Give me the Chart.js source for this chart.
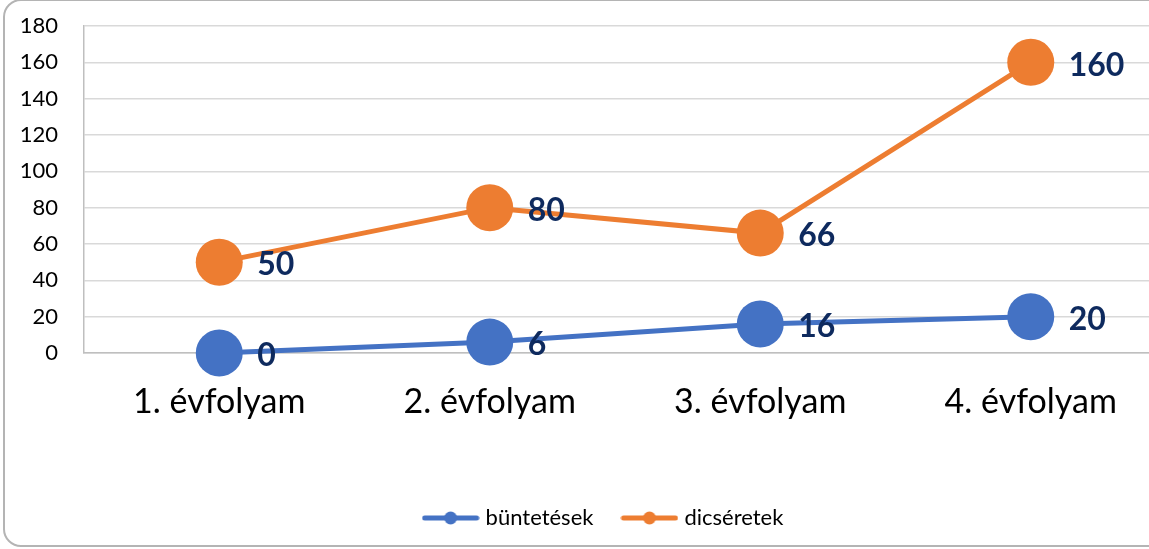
<!DOCTYPE html>
<html>
<head>
<meta charset="utf-8">
<script src="https://cdn.jsdelivr.net/npm/chart.js@4/dist/chart.umd.min.js"></script>
<style>
  html, body { margin: 0; padding: 0; background: #fff; overflow: hidden; }
  #frame {
    position: absolute; left: 3px; top: -1px;
    width: 1200px; height: 548px;
    border: 2px solid #b4b4b4; border-radius: 18px;
    box-sizing: border-box;
  }
  #chart { position: absolute; left: 0; top: 0; }
</style>
</head>
<body>
<div id="frame"></div>
<canvas id="chart" width="1170" height="549"></canvas>
<script>
// évfolyamok és értékek
const categories = ['1. évfolyam', '2. évfolyam', '3. évfolyam', '4. évfolyam'];
const buntetesek = [0, 6, 16, 20];
const dicseretek = [50, 80, 66, 160];
const seriesNames = ['büntetések', 'dicséretek'];
const yTicks = [0, 20, 40, 60, 80, 100, 120, 140, 160, 180];

const BLUE = '#4472C4';
const ORANGE = '#ED7D31';
const FONT = 'Lato, "Open Sans", sans-serif';

// legend marker: line with a dot, like the office style
function legendMarker(color) {
    const c = document.createElement('canvas');
    c.width = 58; c.height = 14;
    const g = c.getContext('2d');
    g.strokeStyle = color;
    g.lineWidth = 5;
    g.lineCap = 'round';
    g.beginPath(); g.moveTo(3, 7); g.lineTo(55, 7); g.stroke();
    g.fillStyle = color;
    g.beginPath(); g.arc(29, 7, 6.5, 0, Math.PI * 2); g.fill();
    return c;
}

// value labels to the right of each point
const valueLabels = {
    id: 'valueLabels',
    afterDatasetsDraw(chart) {
        const ctx = chart.ctx;
        ctx.save();
        ctx.font = 'bold 32px ' + FONT;
        ctx.fillStyle = '#0E2A5E';
        ctx.textAlign = 'left';
        ctx.textBaseline = 'middle';
        chart.data.datasets.forEach((ds, i) => {
            chart.getDatasetMeta(i).data.forEach((pt, j) => {
                ctx.fillText(String(ds.data[j]), pt.x + 38, pt.y + 3);
            });
        });
        ctx.restore();
    }
};

// the original legend sits a bit right of the canvas centre
const legendShift = {
    id: 'legendShift',
    afterLayout(chart) {
        chart.legend.left += 22;
        chart.legend.right += 22;
    }
};

const markers = [legendMarker(BLUE), legendMarker(ORANGE)];

new Chart(document.getElementById('chart'), {
    type: 'line',
    data: {
        labels: categories,
        datasets: [
            {
                label: seriesNames[0],
                data: buntetesek,
                borderColor: BLUE,
                backgroundColor: BLUE,
                borderWidth: 5,
                pointRadius: 23.5,
                pointHoverRadius: 23.5,
                pointBorderWidth: 0,
                fill: false,
                clip: false,
            },
            {
                label: seriesNames[1],
                data: dicseretek,
                borderColor: ORANGE,
                backgroundColor: ORANGE,
                borderWidth: 5,
                pointRadius: 23.5,
                pointHoverRadius: 23.5,
                pointBorderWidth: 0,
                fill: false,
                clip: false,
            },
        ]
    },
    options: {
        responsive: false,
        animation: false,
        layout: { autoPadding: false, padding: { top: 26, bottom: 10, left: 0, right: 4 } },
        scales: {
            x: {
                offset: true,
                grid: { display: false, drawTicks: false },
                border: { display: true, color: '#bfbfbf', width: 1.5 },
                ticks: { color: '#000', font: { family: FONT, size: 34 }, padding: 29, maxRotation: 0 },
                afterFit: s => { s.height = 122; }
            },
            y: {
                min: 0,
                max: 180,
                afterBuildTicks: s => { s.ticks = yTicks.map(v => ({ value: v })); },
                grid: { color: '#d9d9d9', lineWidth: 1.5, drawTicks: false },
                border: { display: true, color: '#bfbfbf', width: 1.5 },
                ticks: { color: '#000', font: { family: FONT, size: 22 }, padding: 26 },
                afterFit: s => { s.width = 84; s.paddingTop = 0; s.paddingBottom = 0; }
            }
        },
        plugins: {
            legend: {
                display: true,
                position: 'bottom',
                labels: {
                    usePointStyle: true,
                    pointStyleWidth: 48,
                    color: '#000',
                    font: { family: FONT, size: 22 },
                    padding: 32,
                    generateLabels: chart => chart.data.datasets.map((ds, i) => ({
                        text: ds.label,
                        pointStyle: markers[i],
                        fillStyle: ds.borderColor,
                        strokeStyle: ds.borderColor,
                        lineWidth: 0,
                        datasetIndex: i,
                        hidden: false,
                        fontColor: '#000'
                    }))
                }
            },
            tooltip: { enabled: false }
        }
    },
    plugins: [valueLabels, legendShift]
});
</script>
</body>
</html>
